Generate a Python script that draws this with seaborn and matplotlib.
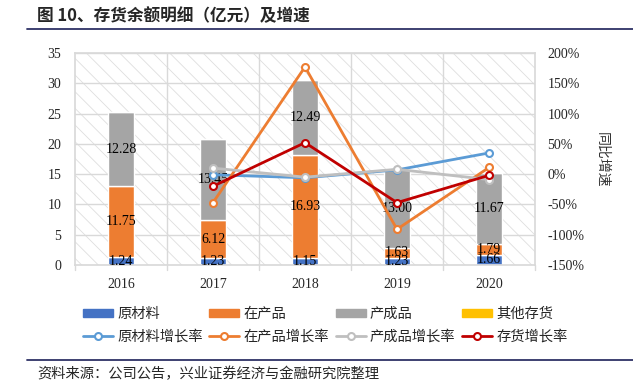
import matplotlib
matplotlib.use("Agg")
import matplotlib.pyplot as plt
import seaborn as sns
import numpy as np
import pandas as pd
from matplotlib.patches import Patch, Rectangle
from matplotlib.lines import Line2D

years = ["2016", "2017", "2018", "2019", "2020"]
raw = [1.24, 1.23, 1.15, 1.23, 1.66]
wip = [11.75, 6.12, 16.93, 1.63, 1.79]
fin = [12.28, 13.45, 12.49, 13.00, 11.67]
other = [0.03, 0.03, 0.03, 0.03, 0.03]

growth_years = ["2017", "2018", "2019", "2020"]
raw_g = [-1, -6, 7, 35]
wip_g = [-47, 177, -91, 11]
fin_g = [10, -5, 8, -9]
inv_g = [-20, 52, -47, -2]

sns.set_theme(style="white")
plt.rcParams["font.family"] = ["Noto Sans CJK SC", "DejaVu Sans"]
plt.rcParams["hatch.linewidth"] = 0.6
SERIF = ["Liberation Serif", "DejaVu Serif"]

c_raw, c_wip, c_fin, c_oth = "#4472C4", "#ED7D31", "#A5A5A5", "#FFC000"
l_raw, l_wip, l_fin, l_inv = "#5B9BD5", "#ED7D31", "#BFBFBF", "#C00000"

fig = plt.figure(figsize=(6.33, 3.83), dpi=100)
ax = fig.add_axes([75/633, 1-265/383, (535-75)/633, (265-53)/383])

# hatched background
ax.add_patch(Rectangle((0, 0), 1, 1, transform=ax.transAxes, facecolor="white",
                       edgecolor="#dedede", hatch="\\\\", lw=0, zorder=0))

df = pd.DataFrame({"year": years, "raw": raw, "wip": wip, "fin": fin, "other": other})
b1 = np.array(raw)
b2 = b1 + np.array(wip)
b3 = b2 + np.array(fin)
w = 0.29
sns.barplot(data=df, x="year", y="raw", color=c_raw, width=w, ax=ax, saturation=1, zorder=2)
sns.barplot(data=df, x="year", y="wip", bottom=b1, color=c_wip, width=w, ax=ax, saturation=1, zorder=2)
sns.barplot(data=df, x="year", y="fin", bottom=b2, color=c_fin, width=w, ax=ax, saturation=1, zorder=2)
sns.barplot(data=df, x="year", y="other", bottom=b3, color=c_oth, width=w, ax=ax, saturation=1, zorder=2)

for i in range(len(years)):
    for val, bot in ((raw[i], 0), (wip[i], b1[i]), (fin[i], b2[i])):
        ax.text(i, bot + val / 2, f"{val:.2f}", ha="center", va="center",
                fontsize=10, family=SERIF, color="black", zorder=6)

ax.set_xlim(-0.5, 4.5)
ax.set_ylim(0, 35)
ax.set_yticks(range(0, 36, 5))
ax.set_xlabel("")
ax.set_ylabel("")
for y in range(5, 36, 5):
    ax.axhline(y, color="#d9d9d9", lw=1, zorder=1)
for x in np.arange(0.5, 4.5, 1):
    ax.axvline(x, color="#d9d9d9", lw=1, zorder=1)
for s in ["left", "right", "top", "bottom"]:
    ax.spines[s].set_color("#d9d9d9")
ax.tick_params(axis="y", length=0, labelsize=10, pad=10)
ax.tick_params(axis="x", length=0, labelsize=10, pad=9)
for t in ax.get_yticklabels():
    t.set_fontfamily(SERIF)
for t in ax.get_xticklabels():
    t.set_fontfamily(SERIF)
# small ticks below axis at boundaries
for x in np.arange(-0.5, 5.0, 1):
    ax.plot([x, x], [0, -0.8], color="#d9d9d9", lw=1, clip_on=False, zorder=1)

ax2 = ax.twinx()
gx = [years.index(y) for y in growth_years]
for vals, col in ((raw_g, l_raw), (wip_g, l_wip), (fin_g, l_fin), (inv_g, l_inv)):
    sns.lineplot(x=gx, y=vals, color=col, lw=2, marker="o", markersize=5,
                 markerfacecolor="white", markeredgecolor=col, markeredgewidth=1.5,
                 ax=ax2, zorder=5)
ax2.set_ylim(-150, 200)
ax2.set_yticks(range(-150, 201, 50))
ax2.set_yticklabels([f"{v}%" for v in range(-150, 201, 50)])
ax2.tick_params(axis="y", length=0, labelsize=10, pad=9)
for t in ax2.get_yticklabels():
    t.set_fontfamily(SERIF)
for s in ax2.spines.values():
    s.set_visible(False)
ax2.set_ylabel("")
fig.text(602/633, 1-160/383, "同比增速", rotation=270, fontsize=10, color="#333333",
         ha="center", va="center")

# title and rules
fig.text(37/633, 1-16/383, "图 10、存货余额明细（亿元）及增速", fontsize=12, fontweight="bold",
         va="center", ha="left")
fig.add_artist(Line2D([27/633, 1], [1-29/383, 1-29/383], color="#2E3166", lw=1.3))
fig.add_artist(Line2D([27/633, 1], [1-360/383, 1-360/383], color="#2E3166", lw=1.3))
fig.text(37/633, 1-374/383, "资料来源：公司公告，兴业证券经济与金融研究院整理", fontsize=10.3,
         va="center", ha="left")

mk = dict(lw=2, marker="o", markersize=5, markerfacecolor="white", markeredgewidth=1.5)
handles = [
    Patch(color=c_raw), Line2D([], [], color=l_raw, **mk),
    Patch(color=c_wip), Line2D([], [], color=l_wip, **mk),
    Patch(color=c_fin), Line2D([], [], color=l_fin, **mk),
    Patch(color=c_oth), Line2D([], [], color=l_inv, **mk),
]
labels = ["原材料", "原材料增长率", "在产品", "在产品增长率", "产成品", "产成品增长率",
          "其他存货", "存货增长率"]
fig.legend(handles, labels, ncol=4, loc="center left",
           bbox_to_anchor=(83/633, 1-325/383), frameon=False, fontsize=10.3,
           handlelength=2.1, handleheight=0.5, handletextpad=0.3, columnspacing=0.45,
           labelspacing=0.6, borderpad=0, borderaxespad=0)

fig.savefig("out.png", dpi=100)
